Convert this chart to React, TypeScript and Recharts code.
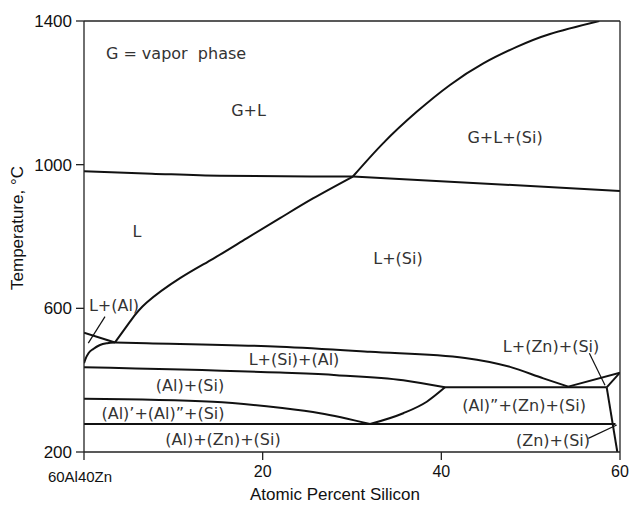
import { LineChart, Line, XAxis, YAxis, ReferenceDot } from "recharts";

// phase boundaries, [at.% Si, temperature °C]
const liquidusLow = [
  [3.47, 505], [5.15, 563], [7.02, 616], [10.75, 684], [14.44, 738],
  [18.21, 795], [21.94, 851], [25.63, 906], [30.1, 967],
];
const liquidusHigh = [
  [30.1, 967], [33.5, 1060], [37.24, 1147], [40.97, 1222], [44.7, 1282],
  [48.44, 1328], [52.17, 1364], [57.68, 1400],
];
const boilLeft = [[0, 982], [7.6, 975], [15.2, 969], [30.1, 967]];
const boilRight = [[30.1, 967], [60, 927]];
const alLiquidus = [[0, 532], [3.47, 505]];
const alSolidus = [
  [0, 447], [0.15, 458], [0.5, 475], [1.04, 487], [1.79, 498], [2.6, 503], [3.47, 505],
];
const eutecticValley = [
  [3.47, 505], [7.02, 503], [21.94, 493], [32.02, 479], [42.65, 462],
  [47.69, 437], [51.42, 405], [54.21, 382],
];
const alSiTop = [[0, 436], [21.94, 421], [28.29, 414], [35.74, 400], [40.41, 380]];
const peritectic = [[40.41, 380], [58.51, 380]];
const wedgeA = [[54.21, 382], [60, 421]];
const wedgeB = [[58.51, 380], [60, 421]];
const znSolvus = [[58.51, 380], [59.7, 200]];
const alPrimeTop = [[0, 348], [14.44, 340], [21.94, 323], [26.42, 308], [32.02, 278]];
const alDoubleTop = [[32.02, 278], [35.74, 308], [38.37, 340], [40.41, 380]];
const monotectoid = [[0, 278], [59.5, 278]];

const leaders = [
  [[0.48, 503], [2.35, 577]],
  [[56.57, 475], [58.32, 386]],
  [[56.45, 238], [59.63, 275]],
];

// region labels: text, at.% Si, temperature (baseline)
const regionLabels: [string, number, number][] = [
  ["G = vapor  phase", 10.3, 1294],
  ["G+L", 18.42, 1136],
  ["G+L+(Si)", 47.13, 1060],
  ["L", 5.93, 799],
  ["L+(Si)", 35.15, 723],
  ["L+(Al)", 3.36, 593],
  ["L+(Si)+(Al)", 23.51, 442],
  ["(Al)+(Si)", 11.87, 370],
  ["(Al)\u2019+(Al)\u201d+(Si)", 8.84, 292],
  ["(Al)+(Zn)+(Si)", 15.56, 220],
  ["L+(Zn)+(Si)", 52.28, 478],
  ["(Al)\u201d+(Zn)+(Si)", 49.26, 314],
  ["(Zn)+(Si)", 52.5, 217],
];

const xTicks = [0, 20, 40, 60];
const yTicks = [200, 600, 1000, 1400];
const xTickLabels: Record<number, string> = { 0: "60Al40Zn", 20: "20", 40: "40", 60: "60" };

const smooth = [liquidusLow, liquidusHigh];
const curved = [boilLeft, alSolidus, eutecticValley, alSiTop, alPrimeTop, alDoubleTop];
const straight = [boilRight, alLiquidus, peritectic, wedgeA, wedgeB, znSolvus, monotectoid];

const toRows = (pts: number[][]) => pts.map(([x, t]) => ({ x, t }));

const AXIS = "#222";
const INK = "#111";
const LABEL_FONT = "'DejaVu Sans', sans-serif";
const AXIS_FONT = "'Liberation Sans', Arial, sans-serif";

const LeftTick = (props: any) => {
  const { x, y, payload } = props;
  return (
    <text x={x - 2} y={y + 6} textAnchor="end" fontFamily={AXIS_FONT} fontSize={17} fill={INK}>
      {payload.value}
    </text>
  );
};

const BottomTick = (props: any) => {
  const { x, y, payload } = props;
  const first = payload.value === 0;
  return (
    <text
      x={first ? x - 4 : x}
      y={first ? y + 19.5 : y + 14.5}
      textAnchor="middle"
      fontFamily={AXIS_FONT}
      fontSize={first ? 15 : 16}
      fill={INK}
    >
      {xTickLabels[payload.value]}
    </text>
  );
};

const boundary = (pts: number[][], key: string, type: "monotone" | "linear" | "natural", width = 2) => (
  <Line
    key={key}
    xAxisId="bottom"
    yAxisId="left"
    data={toRows(pts)}
    dataKey="t"
    type={type}
    stroke={INK}
    strokeWidth={width}
    dot={false}
    activeDot={false}
    isAnimationActive={false}
  />
);

export default function App() {
  return (
    <div style={{ position: "absolute", left: 0, top: 0, background: "#fff" }}>
      <LineChart width={633} height={506} margin={{ top: 0, right: 0, bottom: 0, left: 0 }}>
        <XAxis
          xAxisId="bottom"
          dataKey="x"
          type="number"
          domain={[0, 60]}
          ticks={xTicks}
          allowDataOverflow
          height={54}
          tickSize={8}
          stroke={AXIS}
          strokeWidth={1.3}
          tick={<BottomTick />}
          label={{
            content: () => (
              <text x={335} y={500} textAnchor="middle" fontFamily={AXIS_FONT} fontSize={17} fill={INK}>
                Atomic Percent Silicon
              </text>
            ),
          }}
        />
        <XAxis
          xAxisId="top"
          orientation="top"
          dataKey="x"
          type="number"
          domain={[0, 60]}
          ticks={xTicks}
          allowDataOverflow
          height={21}
          tickSize={8}
          stroke={AXIS}
          strokeWidth={1.3}
          tick={false}
        />
        <YAxis
          yAxisId="left"
          dataKey="t"
          type="number"
          domain={[200, 1400]}
          ticks={yTicks}
          allowDataOverflow
          width={84}
          tickSize={8}
          stroke={AXIS}
          strokeWidth={1.3}
          tick={<LeftTick />}
          label={{
            content: () => (
              <text
                transform="translate(23,228) rotate(-90)"
                textAnchor="middle"
                fontFamily={AXIS_FONT}
                fontSize={17}
                fill={INK}
              >
                Temperature, °C
              </text>
            ),
          }}
        />
        <YAxis
          yAxisId="right"
          orientation="right"
          dataKey="t"
          type="number"
          domain={[200, 1400]}
          ticks={yTicks}
          allowDataOverflow
          width={13}
          tickSize={8}
          stroke={AXIS}
          strokeWidth={1.3}
          tick={false}
        />

        {smooth.map((pts, i) => boundary(pts, `n${i}`, "natural"))}
        {curved.map((pts, i) => boundary(pts, `c${i}`, "monotone"))}
        {straight.map((pts, i) => boundary(pts, `s${i}`, "linear"))}
        {leaders.map((pts, i) => boundary(pts, `l${i}`, "linear", 1.2))}

        {regionLabels.map(([text, x, t]) => (
          <ReferenceDot
            key={text}
            xAxisId="bottom"
            yAxisId="left"
            x={x}
            y={t}
            r={0}
            shape={(p: any) => (
              <text
                x={p.cx}
                y={p.cy}
                textAnchor="middle"
                fontFamily={LABEL_FONT}
                fontSize={16}
                fill="#333"
                style={{ whiteSpace: "pre" }}
              >
                {text}
              </text>
            )}
          />
        ))}
      </LineChart>
    </div>
  );
}
